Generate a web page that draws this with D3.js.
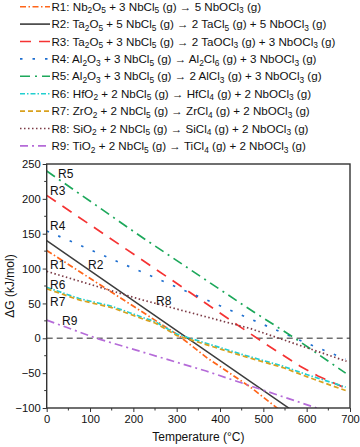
<!DOCTYPE html>
<html>
<head>
<meta charset="utf-8">
<script src="https://cdn.jsdelivr.net/npm/d3@7"></script>
<style>
  body { margin: 0; background: #fff; }
  svg { font-family: "Liberation Sans", Arial, sans-serif; }
</style>
</head>
<body>
<div id="chart"></div>
<script>
// reaction labels (subscripts in braces)
const reactions = ["R1", "R2", "R3", "R4", "R5", "R6", "R7", "R8", "R9"];
const equations = [
  "R1: Nb{2}O{5} + 3 NbCl{5} (g) → 5 NbOCl{3} (g)",
  "R2: Ta{2}O{5} + 5 NbCl{5} (g) → 2 TaCl{5} (g) + 5 NbOCl{3} (g)",
  "R3: Ta{2}O{5} + 3 NbCl{5} (g) → 2 TaOCl{3} (g) + 3 NbOCl{3} (g)",
  "R4: Al{2}O{3} + 3 NbCl{5} (g) → Al{2}Cl{6} (g) + 3 NbOCl{3} (g)",
  "R5: Al{2}O{3} + 3 NbCl{5} (g) → 2 AlCl{3} (g) + 3 NbOCl{3} (g)",
  "R6: HfO{2} + 2 NbCl{5} (g) → HfCl{4} (g) + 2 NbOCl{3} (g)",
  "R7: ZrO{2} + 2 NbCl{5} (g) → ZrCl{4} (g) + 2 NbOCl{3} (g)",
  "R8: SiO{2} + 2 NbCl{5} (g) → SiCl{4} (g) + 2 NbOCl{3} (g)",
  "R9: TiO{2} + 2 NbCl{5} (g) → TiCl{4} (g) + 2 NbOCl{3} (g)"
];

// [temperature °C, ΔG kJ/mol]
const r1 = [[0, 126], [150, 66], [300, 6], [370, -28], [470, -70], [540, -104]];
const r2 = [[0, 140], [300, 11], [570, -105]];
const r3 = [[0, 205], [290, 83], [450, 15], [500, -6], [585, -40], [626, -54], [695, -73]];
const r4 = [[0, 154], [350, 60], [596, -6], [690, -30]];
const r5 = [[0, 240], [215, 147], [460, 45], [573, 0], [690, -50]];
const r6 = [[0, 73], [75, 57], [150, 46], [230, 28], [250, 24], [300, 6], [450, -23], [545, -40], [600, -52], [690, -70]];
const r7 = [[0, 71], [75, 55], [150, 44], [230, 26], [250, 22], [300, 4], [450, -25], [545, -42], [600, -55], [690, -75]];
const r8 = [[0, 96], [215, 56], [470, 14], [692, -33]];
const r9 = [[0, 26], [115, 0], [368, -47], [623, -100], [700, -116]];

const xTicks = [0, 100, 200, 300, 400, 500, 600, 700];
const yTicks = [-100, -50, 0, 50, 100, 150, 200, 250];

const series = [r1, r2, r3, r4, r5, r6, r7, r8, r9];

const colors = ["#ff6519", "#3d3d3d", "#f53333", "#1f6fd0", "#1da85b", "#22cfd0", "#d9a11e", "#7b3a45", "#b56bd8"];
const dashes = ["6,2.5,1.5,2.5", null, "11,8", "2.5,10", "10,5,2,5", "5,2,1.5,2", "5,3", "1.5,2.5", "8,4,2,4"];
const labelPos = [[50, 269], [88, 269], [50, 195], [50, 230], [58, 178], [50, 289], [50, 306], [156, 305], [62, 325]];

const width = 360, height = 447;
const margin = { top: 164, right: 10, bottom: 39, left: 46.7 };

const svg = d3.select("#chart").append("svg")
  .attr("width", width)
  .attr("height", height);

const x = d3.scaleLinear().domain([0, 700]).range([margin.left, width - margin.right]);
const y = d3.scaleLinear().domain([-100, 250]).range([height - margin.bottom, margin.top]);

// text with subscripts: shift down for {..}, shift back on the next piece
function addRich(textSel, str) {
  const parts = str.split(/(\{[^}]*\})/).filter(p => p);
  let shifted = false;
  parts.forEach(p => {
    if (p.startsWith("{")) {
      textSel.append("tspan").attr("dy", 2.6).attr("font-size", "0.72em").text(p.slice(1, -1));
      shifted = true;
    } else {
      const ts = textSel.append("tspan").text(p);
      if (shifted) ts.attr("dy", -2.6);
      shifted = false;
    }
  });
}

// legend
const legend = svg.append("g");
equations.forEach((eq, i) => {
  const ly = 6.7 + i * 17.4;
  legend.append("line")
    .attr("x1", 20).attr("x2", 50)
    .attr("y1", ly).attr("y2", ly)
    .attr("stroke", colors[i])
    .attr("stroke-width", 1.6)
    .attr("stroke-dasharray", dashes[i]);
  const t = legend.append("text")
    .attr("x", 51.5).attr("y", ly + 4)
    .attr("font-size", 11.6)
    .attr("fill", "#111");
  addRich(t, eq);
});

// clip
svg.append("clipPath").attr("id", "plotclip")
  .append("rect")
  .attr("x", x(0)).attr("y", y(250))
  .attr("width", x(700) - x(0)).attr("height", y(-100) - y(250));

// zero line
svg.append("line")
  .attr("x1", x(0)).attr("x2", x(700))
  .attr("y1", y(0)).attr("y2", y(0))
  .attr("stroke", "#707070")
  .attr("stroke-width", 1.6)
  .attr("stroke-dasharray", "6,4");

const line = d3.line().x(d => x(d[0])).y(d => y(d[1]));

svg.append("g").attr("clip-path", "url(#plotclip)")
  .selectAll("path")
  .data(series)
  .join("path")
  .attr("d", line)
  .attr("fill", "none")
  .attr("stroke", (_, i) => colors[i])
  .attr("stroke-width", (_, i) => i === 1 ? 1.5 : 1.7)
  .attr("stroke-dasharray", (_, i) => dashes[i]);

// line labels
svg.append("g").selectAll("text")
  .data(reactions)
  .join("text")
  .attr("x", (_, i) => labelPos[i][0])
  .attr("y", (_, i) => labelPos[i][1])
  .attr("font-size", 12)
  .attr("fill", "#111")
  .text(d => d);

// axes
const xAxis = d3.axisBottom(x).tickValues(xTicks).tickSize(4).tickPadding(3).tickFormat(d3.format("d"));
const yAxis = d3.axisLeft(y).tickValues(yTicks).tickSize(4).tickPadding(2)
  .tickFormat(d => d < 0 ? "\u2212" + Math.abs(d) : d);

const gx = svg.append("g").attr("transform", `translate(0,${y(-100)})`).call(xAxis);
const gy = svg.append("g").attr("transform", `translate(${x(0)},0)`).call(yAxis);
[gx, gy].forEach(g => {
  g.select(".domain").remove();
  g.selectAll("line").attr("stroke", "#333");
  g.selectAll("text").attr("font-size", 11.2).attr("fill", "#111")
    .attr("font-family", "Liberation Sans, Arial, sans-serif");
});

// minor ticks
svg.append("g").selectAll("line")
  .data(d3.range(-75, 250, 50))
  .join("line")
  .attr("x1", x(0) - 2.5).attr("x2", x(0))
  .attr("y1", d => y(d)).attr("y2", d => y(d))
  .attr("stroke", "#333");
svg.append("g").selectAll("line")
  .data(d3.range(50, 700, 100))
  .join("line")
  .attr("x1", d => x(d)).attr("x2", d => x(d))
  .attr("y1", y(-100)).attr("y2", y(-100) + 2.5)
  .attr("stroke", "#333");

// frame
svg.append("rect")
  .attr("x", x(0)).attr("y", y(250))
  .attr("width", x(700) - x(0)).attr("height", y(-100) - y(250))
  .attr("fill", "none")
  .attr("stroke", "#333")
  .attr("stroke-width", 1.4);

// axis titles
svg.append("text")
  .attr("x", (x(0) + x(700)) / 2).attr("y", 441)
  .attr("text-anchor", "middle")
  .attr("font-size", 12)
  .attr("fill", "#111")
  .text("Temperature (°C)");

svg.append("text")
  .attr("transform", `translate(14,${(y(250) + y(-100)) / 2}) rotate(-90)`)
  .attr("text-anchor", "middle")
  .attr("font-size", 12)
  .attr("fill", "#111")
  .text("ΔG (kJ/mol)");
</script>
</body>
</html>
